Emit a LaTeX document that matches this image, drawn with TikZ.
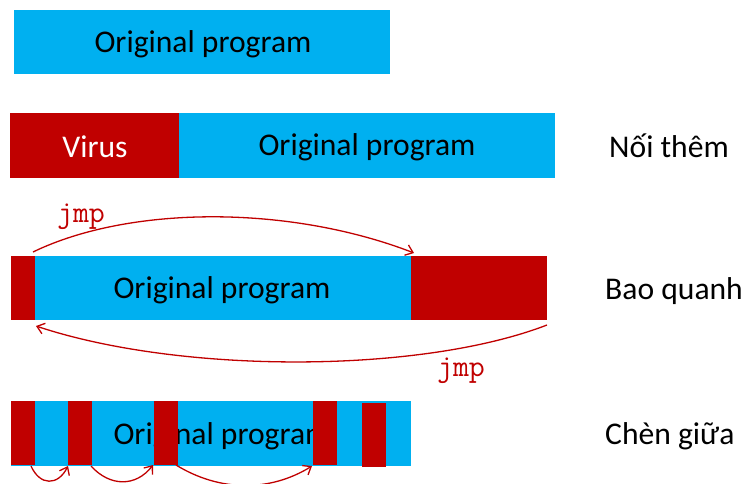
\documentclass[tikz,border=0pt]{standalone}
\usepackage{fontspec}
\setmainfont{Carlito}
\usetikzlibrary{arrows.meta}
\definecolor{vred}{HTML}{C00000}
\definecolor{pblue}{HTML}{00B0F0}
\tikzset{
  blk/.style={inner sep=0pt, outer sep=0pt, anchor=north west},
  redblk/.style={blk, fill=vred},
  blueblk/.style={blk, fill=pblue},
  lbl/.style={font=\fontsize{31.6}{36}\selectfont, text=black, inner sep=0pt},
  jmplbl/.style={font=\ttfamily\fontsize{31}{34}\selectfont, text=vred, inner sep=0pt},
  arr/.style={draw=vred, line width=1.3pt, -{Straight Barb[length=7pt,width=11pt]}},
}
\begin{document}
\begin{tikzpicture}[x=1pt,y=-1pt]
\useasboundingbox (0,0) rectangle (748,483);
% row 1
\node[blueblk, minimum width=376pt, minimum height=64pt] (b1) at (14,10) {};
\node[lbl] (t1) at (203,44) {Original program};
% row 2
\node[redblk, minimum width=169pt, minimum height=65pt] (r2) at (10,113) {};
\node[blueblk, minimum width=376pt, minimum height=65pt] (b2) at (179,113) {};
\node[lbl, text=white] (v2) at (95,147) {Virus};
\node[lbl] (t2) at (367,147) {Original program};
\node[lbl, anchor=west] (n2) at (609,146) {Nối thêm};
% row 3
\node[redblk, minimum width=24pt, minimum height=64pt] (r3a) at (11,256) {};
\node[blueblk, minimum width=376pt, minimum height=64pt] (b3) at (35,256) {};
\node[redblk, minimum width=136pt, minimum height=64pt] (r3b) at (411,256) {};
\node[lbl] (t3) at (222,290) {Original program};
\node[lbl, anchor=west] (n3) at (605,291) {Bao quanh};
\coordinate (a1s) at (33,252);
\coordinate (a1e) at (414,253);
\coordinate (a2s) at (547,325);
\coordinate (a2e) at (36,326);
\draw[arr] (a1s) .. controls (130,205) and (290,205) .. (a1e);
\draw[arr] (a2s) .. controls (420,374) and (180,374) .. (a2e);
\node[jmplbl] (j1) at (81,217) {jmp};
\node[jmplbl] (j2) at (461,371) {jmp};
% row 4
\node[blueblk, minimum width=400pt, minimum height=65pt] (b4) at (11,401) {};
\node[lbl] (t4) at (222,436) {Original program};
\node[redblk, minimum width=24pt, minimum height=64pt] (r4a) at (11,401) {};
\node[redblk, minimum width=24pt, minimum height=64pt] (r4b) at (68,401) {};
\node[redblk, minimum width=24pt, minimum height=64pt] (r4c) at (154,401) {};
\node[redblk, minimum width=24pt, minimum height=64pt] (r4d) at (313,401) {};
\node[redblk, minimum width=24pt, minimum height=64pt] (r4e) at (362,403) {};
\node[lbl, anchor=west] (n4) at (605,436) {Chèn giữa};
\coordinate (c1s) at (31,466);
\coordinate (c1e) at (68,466);
\coordinate (c2s) at (91,466);
\coordinate (c2e) at (153,465);
\coordinate (c3s) at (176,465);
\coordinate (c3e) at (312,466);
\draw[arr] (c1s) .. controls (40,486) and (58,486) .. (c1e);
\draw[arr] (c2s) .. controls (110,487) and (136,487) .. (c2e);
\draw[arr] (c3s) .. controls (220,492) and (270,492) .. (c3e);
\end{tikzpicture}
\end{document}
